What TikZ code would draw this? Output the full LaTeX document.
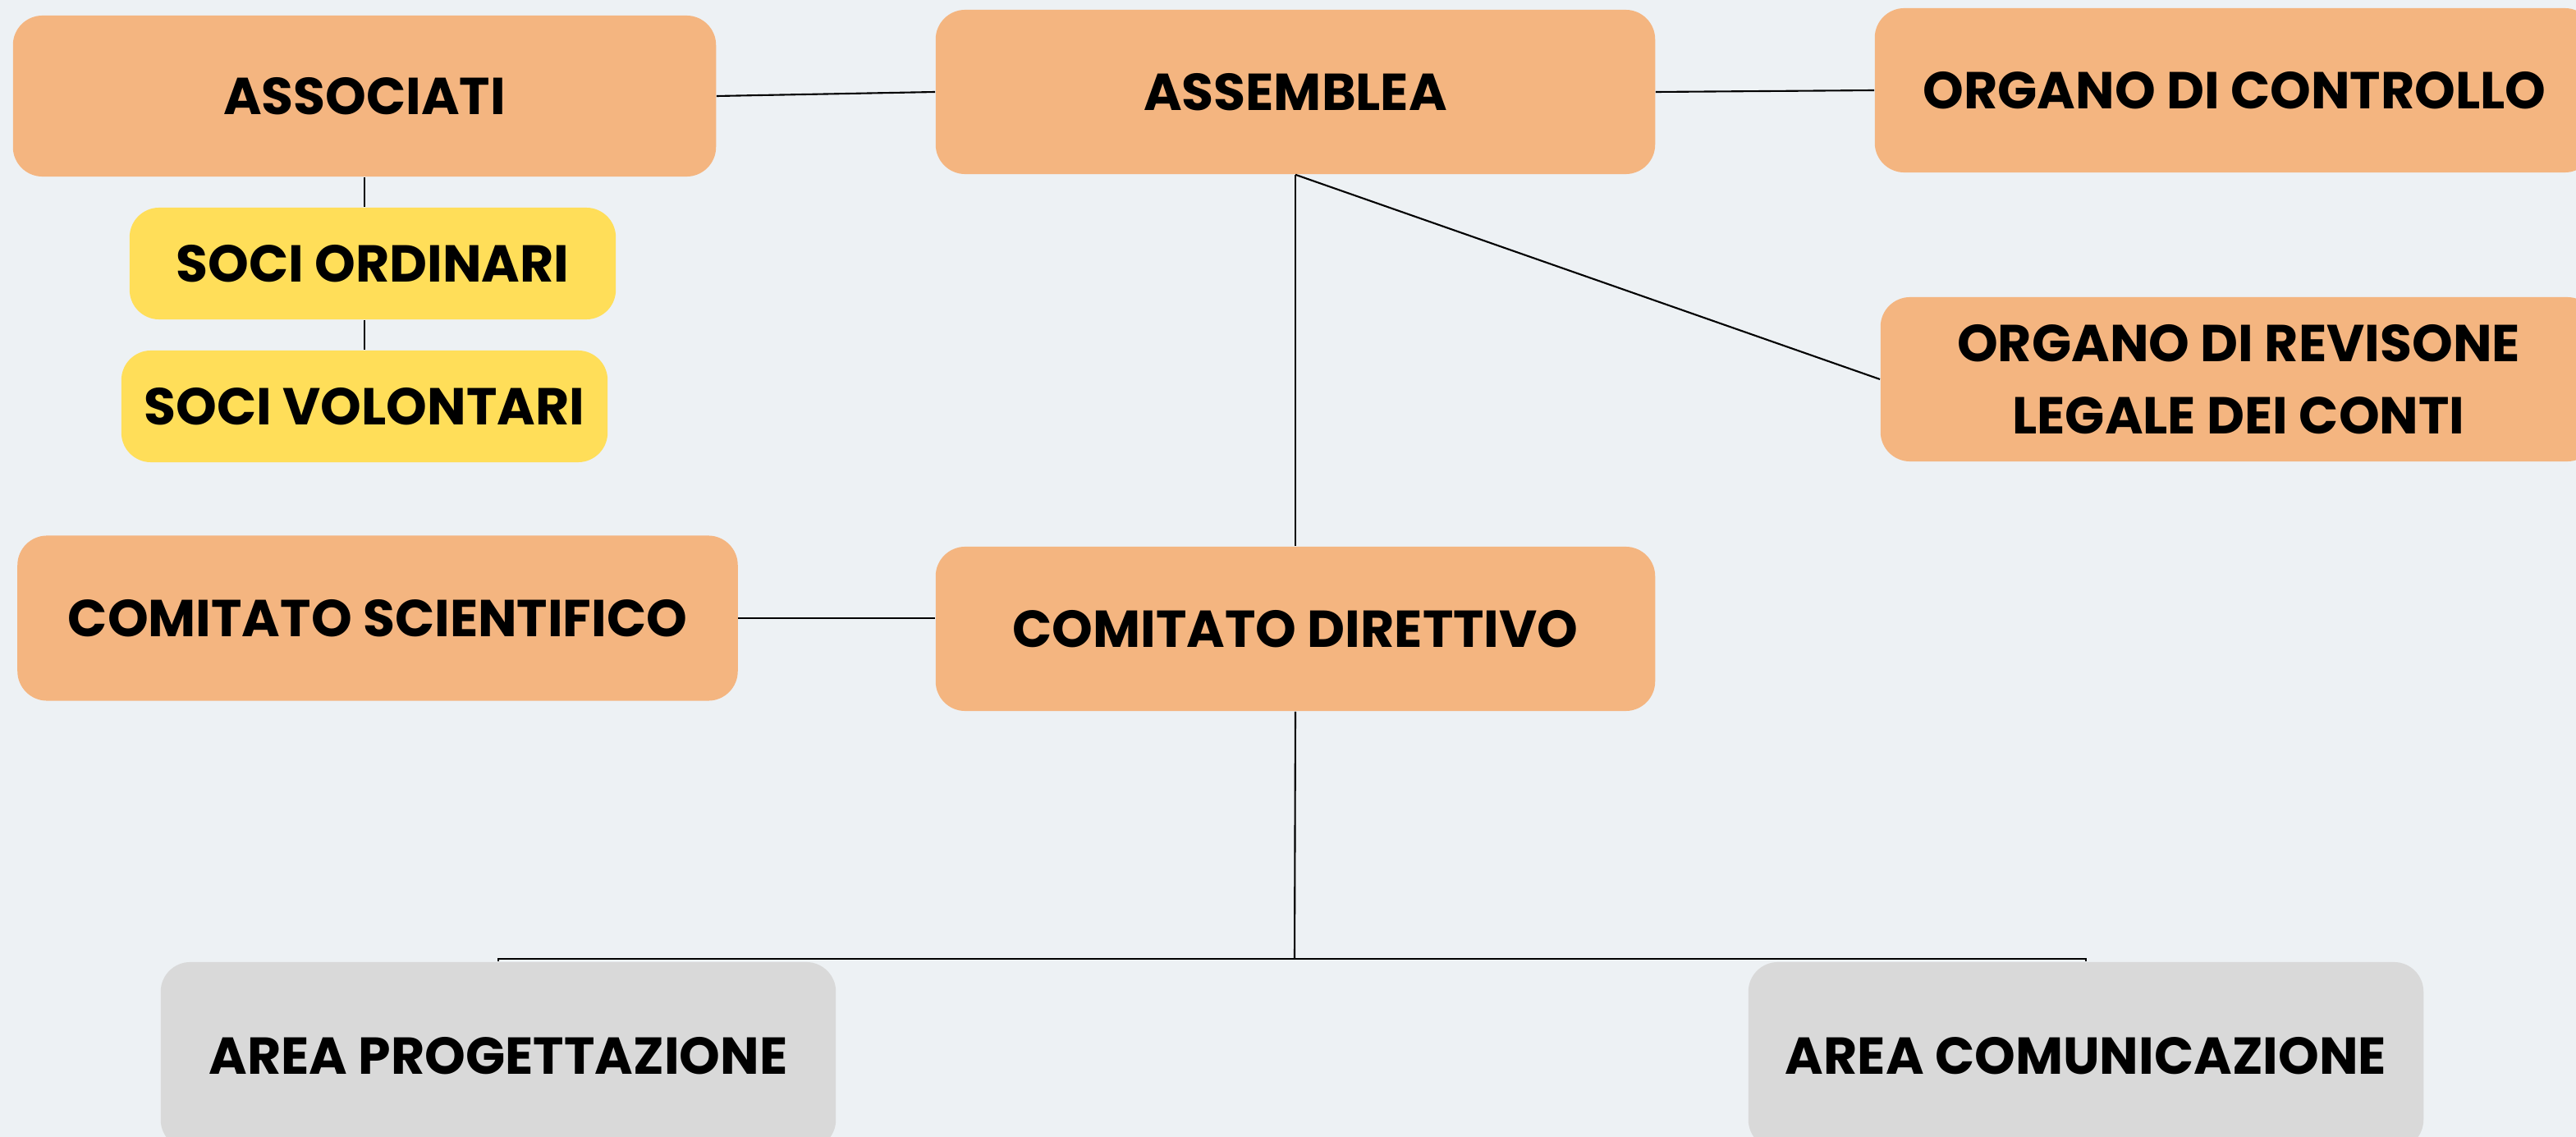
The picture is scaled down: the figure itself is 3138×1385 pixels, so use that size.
\documentclass[tikz,border=0pt]{standalone}
\usepackage{fontspec}
\setmainfont{Poppins}
\usepackage{xcolor}
\usetikzlibrary{positioning,calc}

\definecolor{bgcol}{HTML}{EDF1F4}
\definecolor{orangebox}{HTML}{F4B580}
\definecolor{yellowbox}{HTML}{FFDE59}
\definecolor{greybox}{HTML}{D9D9D9}

\begin{document}
\begin{tikzpicture}[x=0.01cm, y=-0.01cm,
    box/.style={rounded corners=0.36cm, inner sep=0pt, align=center,
        font=\fontsize{18}{25}\selectfont\bfseries},
    orgbox/.style={box, fill=orangebox, minimum width=8.76cm, minimum height=2cm},
    socbox/.style={box, fill=yellowbox, minimum width=5.92cm, minimum height=1.36cm},
    areabox/.style={box, fill=greybox, minimum width=8.22cm, minimum height=2.28cm},
    link/.style={black, line width=0.6pt}]
    % Background
    \fill[bgcol] (0,0) rectangle (3138,1385);
    \useasboundingbox (0,0) rectangle (3138,1385);

    % Top row
    \node[orgbox, minimum width=8.56cm, minimum height=1.96cm] (assoc) at (444,117) {ASSOCIATI};
    \node[orgbox] (assem) at (1578,112) {ASSEMBLEA};
    \node[orgbox] (ctrl) at (2722,110) {ORGANO DI CONTROLLO};

    % Soci
    \node[socbox] (ordin) at (454,321) {SOCI ORDINARI};
    \node[socbox] (volon) at (444,495) {SOCI VOLONTARI};

    % Revisione
    \node[orgbox, minimum width=8.72cm] (revis) at (2727,462) {ORGANO DI REVISONE\\LEGALE DEI CONTI};

    % Comitati
    \node[orgbox, minimum width=8.77cm, minimum height=2.01cm] (scient) at (460,753) {COMITATO SCIENTIFICO};
    \node[orgbox] (dirett) at (1578,766) {COMITATO DIRETTIVO};

    % Aree
    \node[areabox] (prog) at (607,1286) {AREA PROGETTAZIONE};
    \node[areabox] (comun) at (2541,1286) {AREA COMUNICAZIONE};
    \coordinate (hub) at (1577,1168);

    % Connectors
    \draw[link] (assoc.east) -- (assem.west);
    \draw[link] (assem.east) -- (ctrl.west);
    \draw[link] (assoc.south) -- (assoc.south |- ordin.north);
    \draw[link] (assoc.south |- ordin.south) -- (assoc.south |- volon.north);
    \draw[link] (assem.south) -- (dirett.north);
    \draw[link] (assem.south) -- (revis.west);
    \draw[link] (scient.east) -- (scient.east -| dirett.west);
    \draw[link] (dirett.south) -- (hub);
    \draw[link] (prog.north) |- (hub) -| (comun.north);
\end{tikzpicture}
\end{document}
